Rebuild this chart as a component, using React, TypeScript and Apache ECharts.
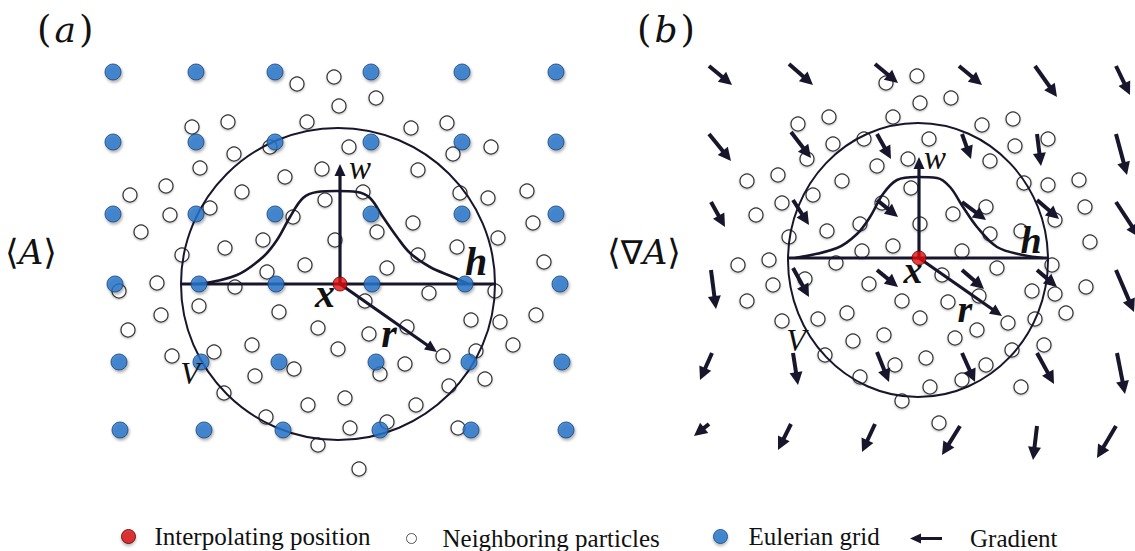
import React, { useEffect, useRef } from "react";
import * as echarts from "echarts";

const NAVY = "#18162c";
const SERIF = "Liberation Serif, DejaVu Serif, serif";
const MATH = "DejaVu Serif, Liberation Serif, serif";

// Eulerian grid nodes of panel (a)
const eulerianGrid: number[][] = [
  [113, 72], [196, 72], [275, 72], [371, 72], [462, 72], [556, 72],
  [113, 142], [196, 142], [275, 142], [371, 142], [462, 142], [556, 142],
  [113, 214], [196, 214], [275, 214], [371, 214], [462, 214], [556, 214],
  [115, 284], [199, 284], [276, 284], [372, 284], [465, 284], [560, 284],
  [119, 362], [201, 362], [279, 362], [376, 362], [469, 362], [562, 362],
  [120, 430], [204, 430], [283, 430], [380, 430], [471, 430], [566, 430],
];

// Neighboring particles, panel (a)
const particlesA: number[][] = [
  [297, 84], [334, 77], [339, 106], [376, 98], [228, 122], [192, 127], [307, 122], [411, 128],
  [447, 123], [234, 154], [270, 147], [349, 147], [453, 154], [491, 147], [200, 168], [285, 177],
  [322, 169], [418, 170], [130, 195], [166, 186], [242, 192], [325, 200], [363, 192], [460, 193],
  [488, 198], [527, 191], [170, 215], [210, 208], [293, 217], [141, 232], [377, 232], [413, 223],
  [533, 223], [263, 240], [335, 240], [498, 238], [182, 255], [225, 248], [305, 265], [387, 268],
  [418, 255], [457, 247], [544, 262], [267, 272], [119, 291], [157, 283], [235, 287], [365, 301],
  [429, 293], [495, 291], [199, 306], [161, 315], [279, 312], [471, 320], [500, 322], [536, 315],
  [128, 330], [318, 328], [369, 334], [407, 327], [252, 345], [214, 352], [338, 349], [443, 356],
  [476, 351], [513, 345], [172, 356], [294, 369], [255, 376], [380, 374], [405, 364], [485, 379],
  [224, 393], [449, 386], [345, 398], [308, 405], [416, 405], [266, 417], [350, 428], [387, 422],
  [458, 428], [318, 445], [359, 469],
];

// Neighboring particles, panel (b)
const particlesB: number[][] = [
  [886, 83], [917, 76], [920, 103], [951, 98], [798, 124], [829, 117], [893, 117], [982, 125],
  [1013, 119], [807, 159], [833, 144], [864, 139], [929, 139], [1015, 146], [1048, 139], [877, 166],
  [908, 159], [990, 161], [747, 181], [778, 175], [842, 181], [1024, 183], [1048, 185], [1079, 180],
  [782, 203], [813, 195], [882, 203], [911, 188], [1085, 207], [756, 215], [953, 214], [986, 207],
  [1055, 220], [789, 237], [827, 231], [860, 224], [920, 224], [1021, 231], [990, 234], [1090, 242],
  [862, 251], [893, 246], [962, 251], [738, 265], [769, 260], [836, 263], [997, 268], [1052, 265],
  [805, 279], [773, 285], [869, 284], [942, 275], [1032, 291], [1055, 294], [1086, 287], [747, 301],
  [902, 301], [948, 302], [979, 296], [782, 321], [818, 319], [847, 313], [920, 318], [1008, 323],
  [1035, 319], [1066, 313], [853, 341], [884, 335], [955, 338], [977, 330], [1012, 350], [1044, 345],
  [825, 355], [895, 365], [926, 358], [986, 365], [860, 377], [962, 380], [930, 387], [1021, 387],
  [902, 401], [939, 423],
];

// Interpolating positions (a) and (b)
const interpolating: number[][] = [[340, 284], [919, 258]];

// Gradient arrows: x1, y1, x2, y2
const gradientArrows: number[][] = [
  [709, 66, 732, 85], [789, 64, 813, 85], [875, 64, 898, 83], [959, 66, 982, 85], [1035, 66, 1057, 97], [1116, 66, 1130, 95],
  [709, 134, 731, 161], [791, 132, 811, 158], [877, 134, 891, 159], [962, 134, 971, 159], [1037, 134, 1041, 166], [1116, 134, 1127, 175],
  [711, 202, 725, 227], [793, 200, 809, 225], [877, 200, 898, 217], [962, 202, 986, 220], [1037, 200, 1059, 219], [1116, 202, 1139, 237],
  [711, 270, 716, 309], [793, 268, 809, 297], [877, 270, 898, 287], [962, 270, 984, 289], [1037, 270, 1057, 287], [1116, 270, 1134, 312],
  [712, 353, 700, 380], [793, 353, 798, 385], [877, 352, 889, 382], [962, 353, 975, 382], [1037, 353, 1054, 384], [1117, 353, 1125, 394],
  [709, 424, 694, 436], [791, 424, 778, 450], [875, 424, 862, 452], [960, 426, 942, 455], [1037, 426, 1033, 460], [1116, 426, 1097, 458],
];

// Kernel axes: w (vertical) and r arrows, x1, y1, x2, y2
const kernelAxes: number[][] = [
  [340, 284, 340, 164], [340, 284, 437, 352],
  [919, 258, 919, 157], [919, 258, 1002, 316],
];

// Support domains V: cx, cy, rx, ry
const supportDomains: number[][] = [[338, 284, 157, 156], [918, 260, 130, 137]];

// Smoothing length lines h
const radiusA: number[][] = [[181, 284], [496, 284]];
const radiusB: number[][] = [[788, 258], [1047, 258]];

// Kernel function W curves
const kernelA: number[][] = [
  [200, 284], [237, 275], [263, 257], [277, 240], [290, 217], [303, 198], [317, 192], [337, 191],
  [357, 192], [370, 198], [383, 217], [397, 237], [410, 253], [430, 267], [453, 277], [468, 284],
];
const kernelB: number[][] = [
  [795, 258], [837, 248], [857, 234], [870, 217], [883, 194], [897, 180], [917, 177], [937, 178],
  [950, 187], [963, 207], [977, 227], [997, 247], [1023, 255], [1043, 258],
];

const legendNames = ["Interpolating position", "Neighboring particles", "Eulerian grid", "Gradient"];

function arrowRenderer(lineWidth: number, headLen: number, headHalf: number) {
  return (_p: any, api: any) => {
    const a = api.coord([api.value(0), api.value(1)]);
    const b = api.coord([api.value(2), api.value(3)]);
    const dx = b[0] - a[0];
    const dy = b[1] - a[1];
    const len = Math.hypot(dx, dy) || 1;
    const ux = dx / len;
    const uy = dy / len;
    const bx = b[0] - ux * headLen;
    const by = b[1] - uy * headLen;
    return {
      type: "group",
      children: [
        {
          type: "line",
          shape: { x1: a[0], y1: a[1], x2: bx + ux * 2, y2: by + uy * 2 },
          style: { stroke: NAVY, lineWidth, lineCap: "butt" },
        },
        {
          type: "polygon",
          shape: {
            points: [
              [b[0], b[1]],
              [bx - uy * headHalf, by + ux * headHalf],
              [bx + uy * headHalf, by - ux * headHalf],
            ],
          },
          style: { fill: NAVY },
        },
      ],
    };
  };
}

function mathText(x: number, y: number, ch: string, size: number, bold: boolean) {
  return {
    type: "text",
    x,
    y,
    z: 100,
    style: {
      text: ch,
      fontFamily: SERIF,
      fontStyle: "italic",
      fontWeight: bold ? "bold" : "normal",
      fontSize: size,
      fill: "#111",
      align: "center",
      verticalAlign: "middle",
    },
  };
}

function panelTitle(x: number, y: number, letter: string) {
  return {
    type: "text",
    x,
    y,
    z: 100,
    style: {
      text: "{p|(}{i|" + letter + "}{p|)}",
      fontSize: 37,
      fill: "#111",
      verticalAlign: "middle",
      rich: {
        p: { fontFamily: MATH, fontSize: 37, fill: "#111" },
        i: { fontFamily: MATH, fontStyle: "italic", fontSize: 36, fill: "#111", padding: [0, 3, 0, 3] },
      },
    },
  };
}

function bracketText(x: number, y: number, inner: string) {
  return {
    type: "text",
    x,
    y,
    z: 100,
    style: {
      text: "{b|\u27E8}" + inner + "{b|\u27E9}",
      fontSize: 35,
      fill: "#111",
      verticalAlign: "middle",
      rich: {
        b: { fontFamily: "DejaVu Sans", fontSize: 35, fill: "#111" },
        n: { fontFamily: "DejaVu Sans", fontSize: 33, fill: "#111" },
        i: { fontFamily: MATH, fontStyle: "italic", fontSize: 34, fill: "#111" },
      },
    },
  };
}

function legendFor(name: string, left: number, iconW: number, iconH: number, gap: number, icon: string, itemStyle: any) {
  return {
    show: true,
    selectedMode: false,
    orient: "horizontal",
    left,
    top: 531 - iconH / 2,
    padding: 0,
    itemWidth: iconW,
    itemHeight: iconH,
    itemGap: 0,
    textStyle: { fontFamily: SERIF, fontSize: 25, color: "#111", padding: [0, 0, 0, gap] },
    data: [{ name, icon, itemStyle }],
  };
}

export default function App() {
  const ref = useRef<HTMLDivElement>(null);
  useEffect(() => {
    if (!ref.current) return;
    const chart = echarts.init(ref.current, undefined, { renderer: "svg" });
    const arrowPath = "path://M0,5 L11,0 L11,3.5 L32,3.5 L32,6.5 L11,6.5 L11,10 Z";
    chart.setOption({
      animation: false,
      backgroundColor: "#ffffff",
      grid: { left: 0, right: 0, top: 0, bottom: 0 },
      xAxis: { type: "value", min: 0, max: 1135, show: false },
      yAxis: { type: "value", min: 0, max: 551, inverse: true, show: false },
      legend: [
        legendFor(legendNames[0], 121, 14, 14, 14, "circle", { color: "#d90d0d", borderColor: "#5a0000", borderWidth: 1, shadowBlur: 3, shadowColor: "rgba(0,0,0,0.35)", shadowOffsetY: 2 }),
        legendFor(legendNames[1], 406, 10, 10, 21, "circle", { color: "#ffffff", borderColor: "#555", borderWidth: 1 }),
        legendFor(legendNames[2], 713, 14, 14, 16, "circle", { color: "#1f74cc", borderColor: "#15457a", borderWidth: 1, shadowBlur: 3, shadowColor: "rgba(0,0,0,0.35)", shadowOffsetY: 2 }),
        legendFor(legendNames[3], 910, 32, 10, 23, arrowPath, { color: NAVY }),
      ],
      graphic: [
        panelTitle(37, 29, "a"),
        panelTitle(637, 29, "b"),
        bracketText(5, 252, "{i|A}"),
        bracketText(607, 252, "{n|\u2207}{i|A}"),
        mathText(360, 168, "w", 33, false),
        mathText(476, 261, "h", 40, true),
        mathText(325, 293, "x", 40, true),
        mathText(389, 333, "r", 40, true),
        mathText(190, 373, "V", 32, false),
        mathText(935, 158, "w", 33, false),
        mathText(1031, 240, "h", 38, true),
        mathText(913, 270, "x", 38, true),
        mathText(965, 309, "r", 38, true),
        mathText(796, 340, "V", 32, false),
      ],
      series: [
        {
          name: legendNames[1],
          type: "scatter",
          z: 2,
          symbol: "circle",
          symbolSize: 14,
          data: [...particlesA, ...particlesB],
          itemStyle: {
            color: "#ffffff",
            borderColor: "#333333",
            borderWidth: 1.2,
            shadowBlur: 2,
            shadowColor: "rgba(0,0,0,0.3)",
            shadowOffsetY: 1,
            opacity: 1,
          },
        },
        {
          type: "custom",
          z: 3,
          data: supportDomains,
          encode: { x: 0, y: 1 },
          renderItem: (_p: any, api: any) => {
            const c = api.coord([api.value(0), api.value(1)]);
            const e = api.coord([api.value(0) + api.value(2), api.value(1) + api.value(3)]);
            return {
              type: "ellipse",
              shape: { cx: c[0], cy: c[1], rx: Math.abs(e[0] - c[0]), ry: Math.abs(e[1] - c[1]) },
              style: { fill: "none", stroke: NAVY, lineWidth: 2 },
            };
          },
        },
        {
          type: "line",
          z: 3,
          data: radiusA,
          symbol: "none",
          lineStyle: { color: NAVY, width: 3 },
        },
        {
          type: "line",
          z: 3,
          data: radiusB,
          symbol: "none",
          lineStyle: { color: NAVY, width: 3 },
        },
        {
          type: "line",
          z: 3,
          data: kernelA,
          symbol: "none",
          smooth: 0.35,
          lineStyle: { color: NAVY, width: 2.6 },
        },
        {
          type: "line",
          z: 3,
          data: kernelB,
          symbol: "none",
          smooth: 0.35,
          lineStyle: { color: NAVY, width: 2.6 },
        },
        {
          name: legendNames[2],
          type: "scatter",
          z: 4,
          symbol: "circle",
          symbolSize: 16,
          data: eulerianGrid,
          itemStyle: {
            color: "#2477cc",
            borderColor: "#1a4474",
            borderWidth: 1,
            shadowBlur: 3,
            shadowColor: "rgba(0,0,0,0.4)",
            shadowOffsetX: 1,
            shadowOffsetY: 2,
          },
        },
        {
          name: legendNames[3],
          type: "custom",
          z: 5,
          data: gradientArrows,
          encode: { x: [0, 2], y: [1, 3] },
          renderItem: arrowRenderer(4, 13, 6.5),
        },
        {
          type: "custom",
          z: 5,
          data: kernelAxes,
          encode: { x: [0, 2], y: [1, 3] },
          renderItem: arrowRenderer(3.2, 12, 5.5),
        },
        {
          name: legendNames[0],
          type: "scatter",
          z: 6,
          symbol: "circle",
          symbolSize: 14,
          data: interpolating,
          itemStyle: { color: "#e00d0d", borderColor: "#6a0000", borderWidth: 1 },
        },
      ],
    });
    return () => chart.dispose();
  }, []);
  return (
    <div
      ref={ref}
      style={{ position: "absolute", left: 0, top: 0, width: 1135, height: 551, background: "#fff" }}
    />
  );
}
